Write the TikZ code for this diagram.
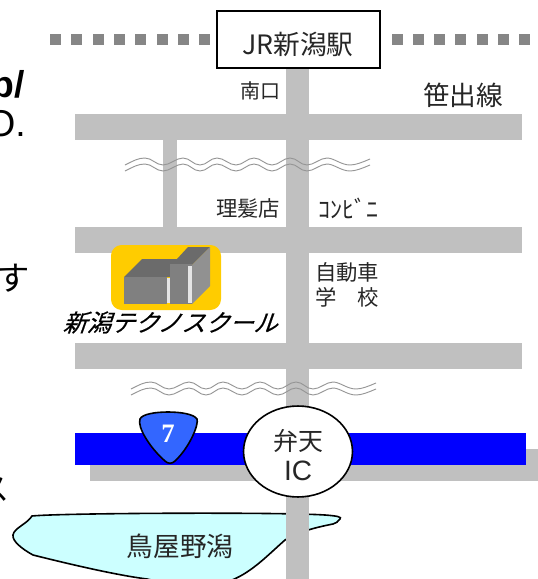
\documentclass[tikz,border=0pt]{standalone}
\usepackage{fontspec}
\usetikzlibrary{shapes.geometric}
\setmainfont{Liberation Sans}
\newfontfamily\cjk{Noto Sans CJK JP}
\newfontfamily\cjkit{Noto Sans CJK JP}[FakeSlant=0.35,FakeBold=0.6]
\newfontfamily\serifnum{Liberation Serif}
\definecolor{roadgray}{RGB}{192,192,192}
\definecolor{railgray}{RGB}{134,134,134}
\definecolor{wavegray}{RGB}{150,150,150}
\definecolor{lakecyan}{RGB}{204,255,255}
\definecolor{shieldblue}{RGB}{51,102,255}
\definecolor{schoolgold}{RGB}{255,204,0}
\begin{document}
\begin{tikzpicture}[x=0.75pt,y=-0.75pt,
  road/.style={fill=roadgray,draw=none},
  railsq/.style={fill=railgray,draw=none},
  wavy/.style={draw=wavegray,line width=0.7pt,fill=none},
  outlined/.style={draw=black,line width=1.2pt},
  label/.style={inner sep=0pt,font=\cjk\fontsize{16}{16}\selectfont,text=black!85},
  biglabel/.style={inner sep=0pt,font=\cjk\fontsize{20}{20}\selectfont,text=black!85}]
\useasboundingbox (0,0) rectangle (538,579);
\begin{scope}
\clip (0,0) rectangle (538,579);
% rail squares
\foreach \x in {50,71.3,92.6,113.9,135.2,156.5,177.8,199.1,391.5,412.8,434.1,455.4,476.7,498,519.3}
  \fill[railsq] (\x,34) rectangle ++(11,11);
% roads
\fill[road] (163,130) rectangle (177,240);
\fill[road] (90,449) rectangle (538,481);
\fill[road] (286,60) rectangle (309,579);
\fill[road] (75,114) rectangle (522,140);
\fill[road] (75,227) rectangle (522,253);
\fill[road] (75,343) rectangle (522,369);
% wavy break lines
\foreach \yy/\xa in {158/125,164/125,382/131,388/131}{
  \draw[wavy] (\xa,\yy+7) .. controls (\xa+8,\yy+3) and (\xa+13,\yy) .. (\xa+20,\yy)
    .. controls (\xa+27,\yy) and (\xa+31,\yy+7) .. (\xa+38,\yy+7)
    .. controls (\xa+45,\yy+7) and (\xa+51,\yy) .. (\xa+58,\yy)
    .. controls (\xa+65,\yy) and (\xa+68,\yy+7) .. (\xa+75,\yy+7)
    .. controls (\xa+82,\yy+7) and (\xa+85,\yy) .. (\xa+92,\yy)
    .. controls (\xa+99,\yy) and (\xa+104,\yy+7) .. (\xa+111,\yy+7)
    .. controls (\xa+118,\yy+7) and (\xa+122,\yy) .. (\xa+129,\yy)
    .. controls (\xa+136,\yy) and (\xa+140,\yy+7) .. (\xa+147,\yy+7)
    .. controls (\xa+154,\yy+7) and (\xa+158,\yy) .. (\xa+165,\yy)
    .. controls (\xa+172,\yy) and (\xa+175,\yy+7) .. (\xa+182,\yy+7)
    .. controls (\xa+189,\yy+7) and (\xa+195,\yy) .. (\xa+202,\yy)
    .. controls (\xa+209,\yy) and (\xa+216,\yy+7) .. (\xa+225,\yy+7)
    .. controls (\xa+231,\yy+7) and (\xa+238,\yy+4) .. (\xa+245,\yy+1);
}
% lake
\draw[fill=lakecyan,outlined]
  (32,516) .. controls (60,513) and (280,512) .. (325,515)
  .. controls (338,516) and (342,517) .. (340,519)
  .. controls (338,522) and (336,523) .. (333,524)
  .. controls (318,527) and (300,531) .. (285,540)
  .. controls (268,555) and (252,572) .. (232,580)
  .. controls (215,586) and (175,586) .. (147,579)
  .. controls (115,575) and (65,563) .. (33,555)
  .. controls (22,549) and (12,541) .. (13,535)
  .. controls (14,528) and (27,524) .. (32,516) -- cycle;
\fill[road] (286,505) rectangle (309,579);
% expressway
\fill[blue] (75,433) rectangle (526,465);
% IC
\node[fill=white,outlined,ellipse,minimum width=81.7pt,minimum height=68.2pt,inner sep=0pt] (ic) at (298,451.5) {};
\node[biglabel,font=\cjk\fontsize{18.7}{18.7}\selectfont] (ic1) at (298,440.5) {弁天};
\node[biglabel,font=\fontsize{21}{21}\selectfont] (ic2) at (298,471) {IC};
% shield
\draw[fill=shieldblue,outlined]
  (168,412) .. controls (180,412) and (194,414) .. (197,419)
  .. controls (199,424) and (190,447) .. (175,461)
  .. controls (172,464) and (168,464) .. (165,461)
  .. controls (150,448) and (137,427) .. (140,419)
  .. controls (142,414) and (156,412) .. (168,412) -- cycle;
\node[inner sep=0pt,text=white,font=\serifnum\bfseries\fontsize{20}{20}\selectfont] (r7) at (168,434) {7};
% station
\node[fill=white,outlined,minimum width=122pt,minimum height=42.5pt,inner sep=0pt] (st) at (298.5,39.5) {};
\node[biglabel] (stl) at (298,44) {JR新潟駅};
% labels
\node[label,font=\cjk\fontsize{15}{15}\selectfont] (l1) at (260.5,91) {南口};
\node[biglabel] (l2) at (463,95) {笹出線};
\node[label] (l3) at (248,208) {理髪店};
\node[label,font=\cjk\fontsize{18}{18}\selectfont] (l4) at (348.5,208) {ｺﾝﾋﾞﾆ};
\node[label] (l5) at (347,272.5) {自動車};
\node[label] (l6) at (347,297.5) {学　校};
\node[biglabel] (l7) at (180,546.5) {鳥屋野潟};
% school
\fill[schoolgold,rounded corners=8pt] (111,245) rectangle (221,310);
\fill[black!58] (124,277) -- (142,259) -- (177,259) -- (188,247) -- (210,247) -- (192,265) -- (170,277) -- cycle;
\fill[black!50] (124,277) rectangle (167,304);
\fill[black!50] (170,264) rectangle (192,304);
\fill[black!43] (192,265) -- (210,247) -- (210,286) -- (192,304) -- cycle;
\fill[black!10] (167,278) rectangle (170,303);
\fill[black!10] (188,266) rectangle (192,303);
\node[inner sep=0pt,font=\cjkit\fontsize{18}{18}\selectfont] (sc) at (170,322.5) {新潟テクノスクール};
% clipped body text at left edge
\node[anchor=base east,inner sep=0pt,font=\bfseries\fontsize{28}{28}\selectfont] (t1) at (25,97) {p/};
\node[anchor=base east,inner sep=0pt,font=\fontsize{28}{28}\selectfont] (t2) at (26,136) {O.};
\node[anchor=east,inner sep=0pt,font=\cjk\fontsize{25}{25}\selectfont] (t3) at (30,278) {す};
\node[anchor=east,inner sep=0pt,font=\cjk\fontsize{24}{24}\selectfont] (t4) at (10,490) {ス};
\end{scope}
\end{tikzpicture}
\end{document}
